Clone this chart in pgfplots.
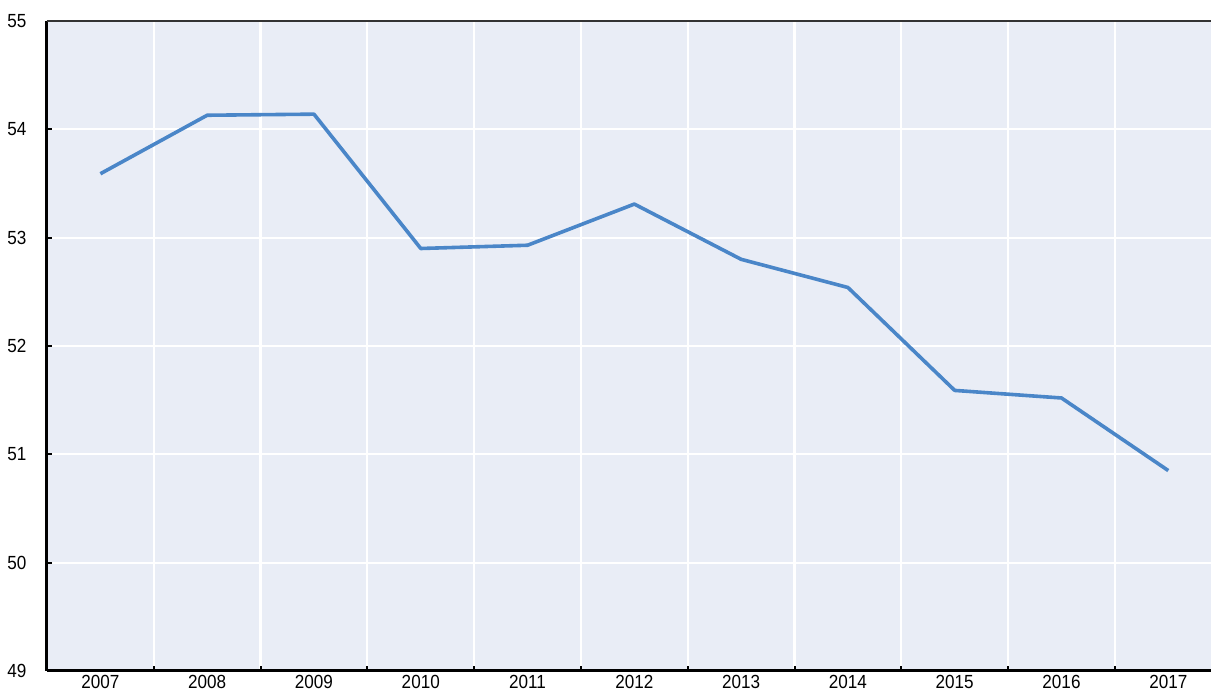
\documentclass[border=0pt]{standalone}
\usepackage{fontspec}
\setmainfont{Liberation Sans}[FakeStretch=0.9]
\usepackage{pgfplots}
\pgfplotsset{compat=1.18}
\definecolor{bgc}{HTML}{E9EDF6}
\definecolor{linec}{HTML}{4A86C8}
\begin{document}
\begin{tikzpicture}
\begin{axis}[
  name=ax,
  scale only axis,
  width=1164pt, height=650pt,
  xmin=2006.5, xmax=2017.4,
  ymin=49, ymax=55,
  axis background/.style={fill=bgc},
  axis x line*=bottom,
  axis y line*=left,
  axis line style={black, line width=3pt, -},
  xtick={2007,2008,2009,2010,2011,2012,2013,2014,2015,2016,2017},
  xticklabels={2007,2008,2009,2010,2011,2012,2013,2014,2015,2016,2017},
  major x tick style={draw=none},
  minor xtick={2007.5,2008.5,2009.5,2010.5,2011.5,2012.5,2013.5,2014.5,2015.5,2016.5},
  minor x tick style={black, line width=2pt},
  minor tick length=5pt,
  xminorgrids=true,
  minor x grid style={white, line width=2.2pt},
  ytick={49,50,51,52,53,54,55},
  ymajorgrids=true,
  major y grid style={white, line width=2.2pt},
  major y tick style={black, line width=2pt},
  major tick length=5pt,
  tick align=inside,
  /pgf/number format/assume math mode=true,
  tick label style={font=\fontsize{19}{20}\selectfont},
  yticklabel style={anchor=east, xshift=-17pt},
  xticklabel style={yshift=-1pt},
  clip=false,
]
\addplot[linec, line width=3.6pt, line join=round] coordinates {
(2007,53.59) (2008,54.13) (2009,54.14) (2010,52.90) (2011,52.93)
(2012,53.31) (2013,52.80) (2014,52.54) (2015,51.59) (2016,51.52) (2017,50.85)};
\draw[black!80, line width=1.4pt] (rel axis cs:0,1) -- (rel axis cs:1,1);
\end{axis}
\pgfresetboundingbox
\path[use as bounding box] ([xshift=-47pt,yshift=-25pt]ax.south west) rectangle ([yshift=21pt]ax.north east);
\end{tikzpicture}
\end{document}
